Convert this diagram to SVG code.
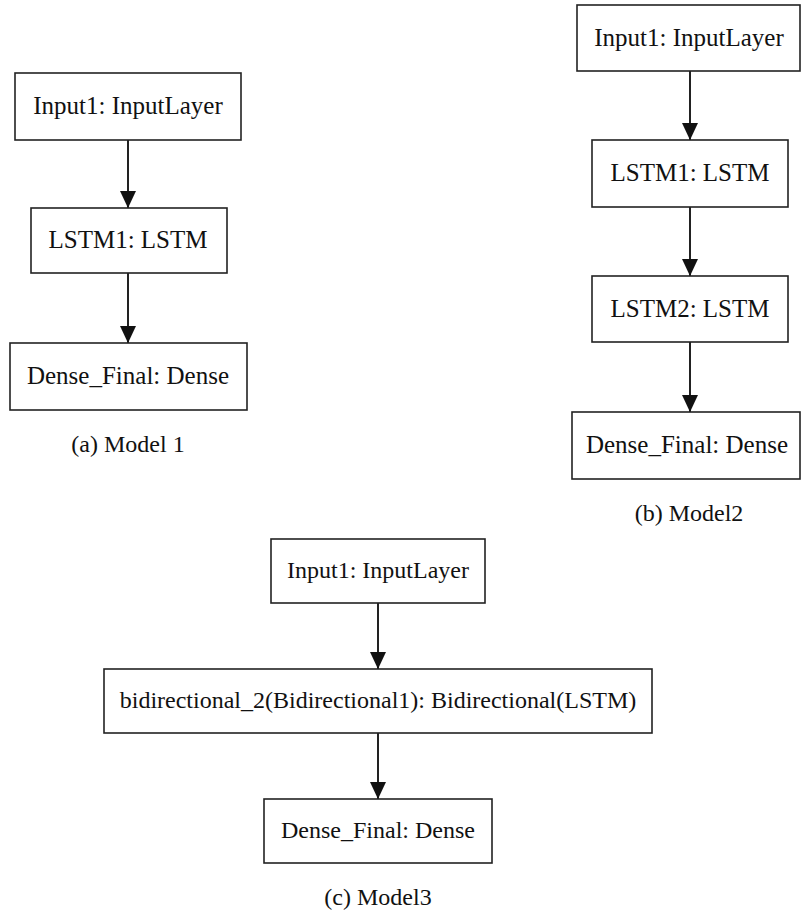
<svg xmlns="http://www.w3.org/2000/svg" width="801" height="911" viewBox="0 0 801 911">
<defs>
<style>
.box{fill:#fff;stroke:#222;stroke-width:1.6}
.lbl{font-family:"Liberation Serif","Times New Roman",serif;font-size:25px;fill:#111;text-anchor:middle}
.lbl24{font-family:"Liberation Serif","Times New Roman",serif;font-size:24px;fill:#111;text-anchor:middle}
.cap{font-family:"Liberation Serif","Times New Roman",serif;font-size:24px;fill:#111;text-anchor:middle}
.edge{stroke:#222;stroke-width:2;fill:none}
</style>
<marker id="ah" markerUnits="userSpaceOnUse" markerWidth="17" markerHeight="17" refX="17" refY="8" orient="auto">
<path d="M0,0 L17,8 L0,16 z" fill="#111"/>
</marker>
</defs>
<rect width="801" height="911" fill="#fff"/>
<g id="connectors">
<line class="edge" x1="128" y1="140" x2="128" y2="208" marker-end="url(#ah)"/>
<line class="edge" x1="128" y1="273" x2="128" y2="343" marker-end="url(#ah)"/>
<line class="edge" x1="690" y1="71" x2="690" y2="140" marker-end="url(#ah)"/>
<line class="edge" x1="690" y1="207" x2="690" y2="276" marker-end="url(#ah)"/>
<line class="edge" x1="690" y1="342" x2="690" y2="412" marker-end="url(#ah)"/>
<line class="edge" x1="378" y1="603" x2="378" y2="669" marker-end="url(#ah)"/>
<line class="edge" x1="378" y1="733" x2="378" y2="799" marker-end="url(#ah)"/>
</g>
<g id="a_input"><rect class="box" x="15" y="73" width="226" height="67"/><text class="lbl" x="128" y="114">Input1: InputLayer</text></g>
<g id="a_lstm1"><rect class="box" x="31" y="208" width="196" height="65"/><text class="lbl" x="128" y="248">LSTM1: LSTM</text></g>
<g id="a_dense"><rect class="box" x="10" y="343" width="237" height="67"/><text class="lbl" x="128" y="384">Dense_Final: Dense</text></g>
<text class="cap" x="128" y="452">(a) Model 1</text>
<g id="b_input"><rect class="box" x="577" y="5" width="223" height="66"/><text class="lbl" x="689" y="46">Input1: InputLayer</text></g>
<g id="b_lstm1"><rect class="box" x="592" y="140" width="196" height="67"/><text class="lbl" x="690" y="181">LSTM1: LSTM</text></g>
<g id="b_lstm2"><rect class="box" x="592" y="276" width="196" height="66"/><text class="lbl" x="690" y="317">LSTM2: LSTM</text></g>
<g id="b_dense"><rect class="box" x="572" y="412" width="228" height="67"/><text class="lbl" x="687" y="453">Dense_Final: Dense</text></g>
<text class="cap" x="689" y="521">(b) Model2</text>
<g id="c_input"><rect class="box" x="271" y="539" width="214" height="64"/><text class="lbl24" x="378" y="578">Input1: InputLayer</text></g>
<g id="c_bidir"><rect class="box" x="104" y="669" width="548" height="64"/><text class="lbl24" x="378" y="708">bidirectional_2(Bidirectional1): Bidirectional(LSTM)</text></g>
<g id="c_dense"><rect class="box" x="264" y="799" width="228" height="64"/><text class="lbl24" x="378" y="838">Dense_Final: Dense</text></g>
<text class="cap" x="378" y="905">(c) Model3</text>
</svg>
